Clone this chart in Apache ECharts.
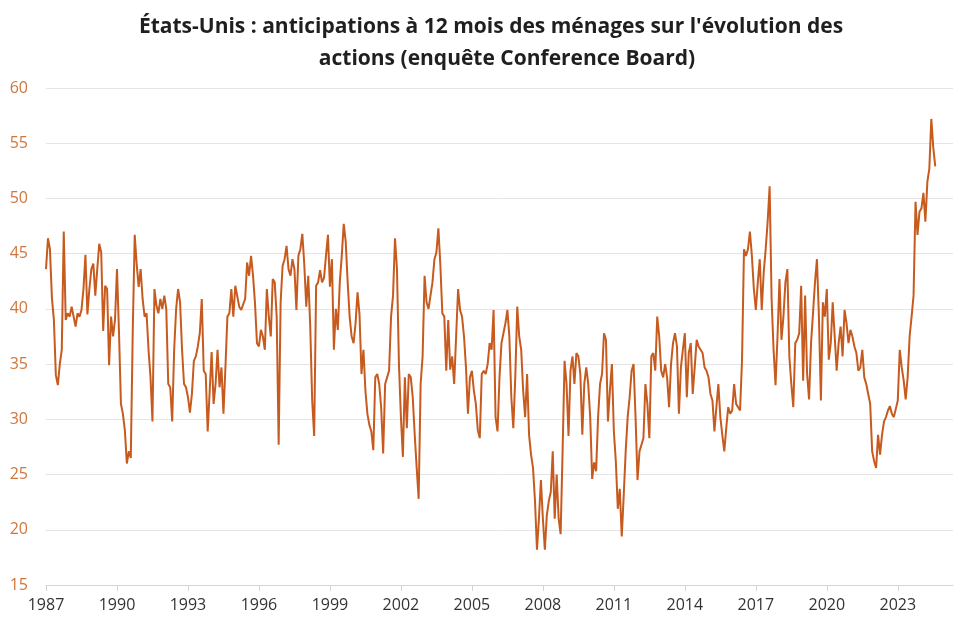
<!DOCTYPE html>
<html>
<head>
<meta charset="utf-8">
<script src="https://cdn.jsdelivr.net/npm/echarts@6/dist/echarts.min.js"></script>
<style>
html,body{margin:0;padding:0;background:#fff;}
#chart{width:964px;height:628px;}
</style>
</head>
<body>
<div id="chart"></div>
<script>
// Monthly values, Jan 1987 onwards
const d1987 = [43.6,46.4,45.4,41,39,34,33.1,35,36.3,47,39,39.6, 39.3,40.2,39.3,38.4,39.6,39.3,39.9,41.8,44.9,39.5,41.8,43.6, 44.1,41.2,43.6,45.9,45.1,38,42.1,41.8,34.9,39.3,37.5,39];
const d1990 = [43.6,38,31.4,30.5,29,26,27.1,26.5,38,46.7,44,42, 43.6,40.9,39.3,39.6,36.3,33.8,29.8,41.8,40.3,39.6,40.9,40, 41.2,40,33.2,32.9,29.8,36.3,40,41.8,40.6,36.3,33.2,32.9];
const d1993 = [32,30.6,32.3,35.3,35.7,36.6,37.8,40.9,34.4,34.1,28.9,32.5, 36.1,31.4,33.2,36.3,32.9,34.7,30.5,34.7,39.3,39.6,41.8,39.3, 42.1,42.1,40.2,39.9,39.9,40.9,44.2,43,44.8,43,40.5,36.9];
const d1996 = [36.6,38.1,37.5,36.3,41.8,39.3,37.5,42.7,42.4,39.3,27.7,40.6, 43.9,44.5,45.7,43.6,43,44.5,43.6,39.9,44.8,45.4,46.8,44, 40.2,43,38.5,31.7,28.5,42.1,42.4,43.5,42.4,42.8,44.8,46.7];
const d1999 = [42,44.5,36.3,40,38.1,42.4,44.8,47.7,46.1,42.4,39.3,37.5, 36.9,38.7,41.5,39.5,34.1,36.3,32.6,30.5,29.5,28.9,27.2,33.8, 34.1,33.2,31,26.9,33.2,33.8,34.4,39.3,41.2,46.4,43.6,35];
const d2002 = [30.2,26.6,33.8,29.2,34.1,33.8,32,28.6,25.6,22.8,33.2,35.7, 43,40.6,40,41.2,42.4,44.5,45.1,47.3,44,39.6,39.3,34.4, 39,34.5,35.7,33.2,37.5,41.8,39.9,39.3,37.5,34.7,30.5,33.8];
const d2005 = [34.4,32.6,31.4,29,28.3,34.1,34.4,34.1,35,36.9,36.3,39.9, 30.2,28.9,33.8,36.9,37.8,38.7,39.9,37.5,32,29.2,33.8,40.2, 37.5,36.3,32.6,30.2,34.1,28.6,26.8,25.6,22.6,18.2,21,24.5];
const d2008 = [21,18.2,21.3,22.6,23.4,27.1,21,25,21,19.6,27.1,35.3, 33.2,28.5,34.4,35.7,33.2,36,35.7,34.1,28.6,33.2,34.7,33.2, 30.2,24.6,26.1,25.3,30.2,33.2,34.1,37.8,37.2,29.8,32.6,35];
const d2011 = [28.9,26.2,21.9,23.7,19.4,23.1,27.1,30.2,32,34.4,35,30.2, 24.5,27.1,27.7,28.3,33.2,31.4,28.3,35.7,36,34.4,39.3,37.5, 34.4,33.8,35,33.8,31.1,35,36.9,37.8,36.6,30.5,34.7,36.3];
const d2014 = [37.8,32,36,36.9,32.3,34.7,37.2,36.6,36.3,36,34.7,34.4, 33.8,32.3,31.7,28.9,31.1,33.2,30.2,28.6,27.1,29.2,31.1,30.5, 30.8,33.2,31.4,31.1,30.8,35.4,45.4,44.8,45.4,47,44.8,41.8];
const d2017 = [39.9,42.4,44.5,39.9,43.3,45.4,47.9,51.1,40.9,36.3,33.1,37.5, 42.7,37.2,39.3,42.4,43.6,35.7,33.2,31.1,36.9,37.2,37.8,42.1, 33.5,41.2,34.1,31.8,36.9,39.6,42.4,44.5,39.3,31.7,40.6,39.3];
const d2020 = [41.8,35.4,36.9,40.6,37.5,34.4,36.9,38.4,35.7,39.9,38.7,36.9, 38.1,37.5,36.6,36,34.4,34.7,36.3,33.8,33.2,32.3,31.4,27.1, 26.2,25.6,28.6,26.8,28.6,29.8,30.2,30.8,31.2,30.5,30.2,30.2];
const d2023 = [31.7,36.3,34.7,33.5,31.8,33.8,37.5,39.3,41.2,49.7,46.7,48.8, 49.1,50.5,47.9,51.5,52.7,57.2,54.6,52.9];

const values = [].concat(d1987,d1990,d1993,d1996,d1999,d2002,d2005,d2008,d2011,d2014,d2017,d2020,d2023);

// Monthly categories of the time axis: Jan 1987 .. May 2025
const firstYear = 1987, lastYear = 2025, lastMonth = 5;
const categories = [];
for (let y = firstYear; y <= lastYear; y++) {
  for (let m = 1; m <= 12; m++) {
    if (y === lastYear && m > lastMonth) break;
    categories.push(y + '-' + (m < 10 ? '0' + m : m));
  }
}

const titleLine1 = "États-Unis : anticipations à 12 mois des ménages sur l'évolution des";
const titleLine2 = "actions (enquête Conference Board)";

const chart = echarts.init(document.getElementById('chart'), null, {renderer: 'canvas'});
chart.setOption({
  animation: false,
  backgroundColor: '#ffffff',
  graphic: [
    {type: 'text', x: 491, y: 27, style: {text: titleLine1, align: 'center', verticalAlign: 'middle', fill: '#1f1f1f', font: 'bold 21px "Open Sans"'}},
    {type: 'text', x: 507, y: 59, style: {text: titleLine2, align: 'center', verticalAlign: 'middle', fill: '#1f1f1f', font: 'bold 21px "Open Sans"'}}
  ],
  grid: {left: 46, right: 11, top: 88, bottom: 43, containLabel: false},
  xAxis: {
    type: 'category',
    data: categories,
    boundaryGap: false,
    axisLine: {show: true, lineStyle: {color: '#d4d4d4', width: 1}},
    axisTick: {show: true, interval: 35, length: 6, lineStyle: {color: '#d4d4d4'}},
    axisLabel: {
      interval: 35, margin: 12, color: '#333333', fontSize: 16, fontFamily: 'Open Sans',
      formatter: v => v.slice(0, 4)
    },
    splitLine: {show: false}
  },
  yAxis: {
    type: 'value',
    min: 15, max: 60, interval: 5,
    axisLine: {show: false},
    axisTick: {show: false},
    axisLabel: {margin: 18, color: '#d0763d', fontSize: 16, fontFamily: 'Open Sans'},
    splitLine: {show: true, lineStyle: {color: '#e4e4e4', width: 1}}
  },
  series: [{
    type: 'line',
    data: values,
    showSymbol: false,
    symbol: 'none',
    lineStyle: {color: '#c75b1f', width: 2},
    itemStyle: {color: '#c75b1f'}
  }]
});
</script>
</body>
</html>
